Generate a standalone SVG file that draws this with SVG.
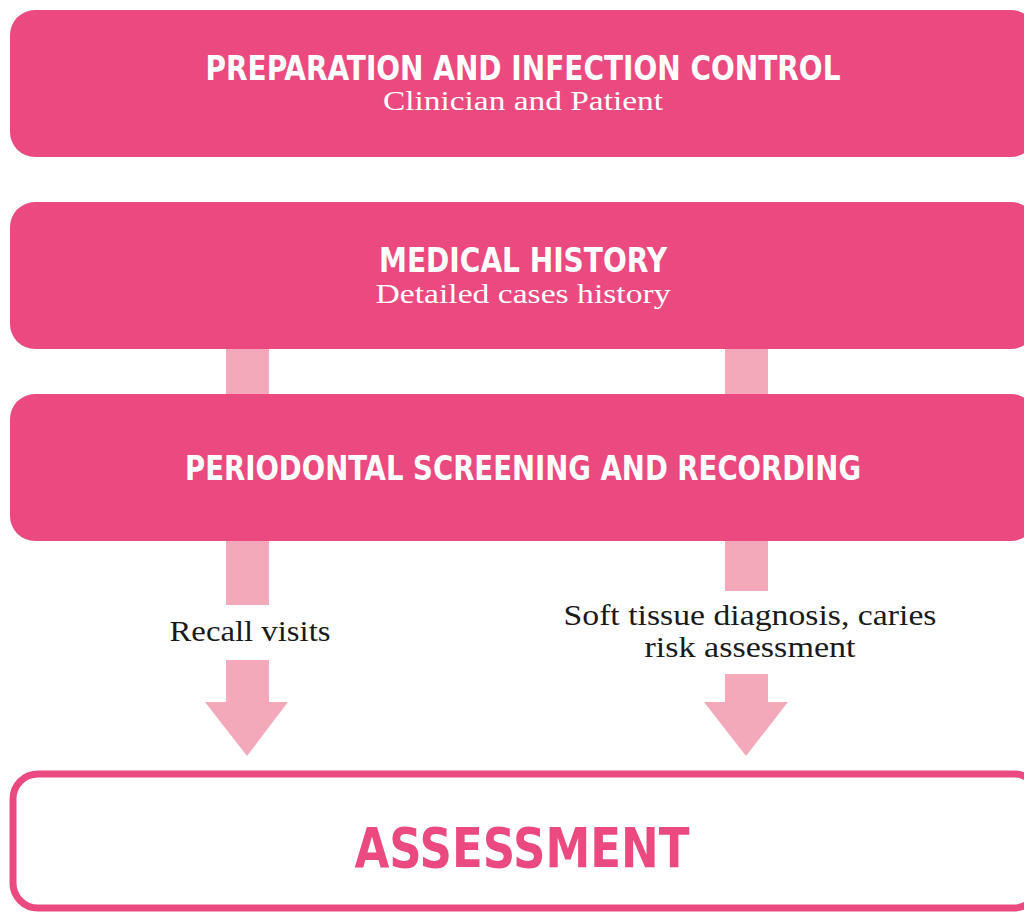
<svg xmlns="http://www.w3.org/2000/svg" width="1024" height="912" viewBox="0 0 1024 912">
<style>
.box{fill:#EB4A80}
.bar{fill:#F4A9BA}
.title{font-family:"DejaVu Sans Condensed","Roboto","Liberation Sans",sans-serif;font-weight:bold;fill:#fff;font-size:34px;text-anchor:middle}
.sub{font-family:"Liberation Serif",serif;fill:#fff;font-size:27px;text-anchor:middle}
.lbl{font-family:"Liberation Serif",serif;fill:#1a1a1a;font-size:29px;text-anchor:middle}
</style>
<rect width="1024" height="912" fill="#fff"/>
<g id="connectors">
<rect class="bar" x="226" y="340" width="43" height="60"/>
<rect class="bar" x="725" y="340" width="43" height="60"/>
<rect class="bar" x="226" y="535" width="43" height="70"/>
<polygon class="bar" points="226,660 269,660 269,702 288,702 247,756 205,702 226,702"/>
<rect class="bar" x="725" y="535" width="43" height="56"/>
<polygon class="bar" points="725,674 768,674 768,702 788,702 746,756 704,702 725,702"/>
<text class="lbl" x="250" y="641" textLength="161" lengthAdjust="spacingAndGlyphs">Recall visits</text>
<text class="lbl" x="750" y="625" textLength="373" lengthAdjust="spacingAndGlyphs">Soft tissue diagnosis, caries</text>
<text class="lbl" x="750" y="657" textLength="211" lengthAdjust="spacingAndGlyphs">risk assessment</text>
</g>
<g id="node1">
<rect class="box" x="10" y="10" width="1026" height="147" rx="25"/>
<text class="title" x="523" y="80" textLength="635" lengthAdjust="spacingAndGlyphs">PREPARATION AND INFECTION CONTROL</text>
<text class="sub" x="523" y="110" textLength="280" lengthAdjust="spacingAndGlyphs">Clinician and Patient</text>
</g>
<g id="node2">
<rect class="box" x="10" y="202" width="1026" height="147" rx="25"/>
<text class="title" x="523" y="272" textLength="288" lengthAdjust="spacingAndGlyphs">MEDICAL HISTORY</text>
<text class="sub" x="523" y="303" textLength="295" lengthAdjust="spacingAndGlyphs">Detailed cases history</text>
</g>
<g id="node3">
<rect class="box" x="10" y="394" width="1026" height="147" rx="25"/>
<text class="title" x="523" y="480" textLength="676" lengthAdjust="spacingAndGlyphs">PERIODONTAL SCREENING AND RECORDING</text>
</g>
<g id="node4">
<rect x="13" y="774" width="1026" height="134" rx="25" fill="#fff" stroke="#EB4A80" stroke-width="7"/>
<text x="522" y="867" font-family="DejaVu Sans Condensed, Roboto, Liberation Sans, sans-serif" font-weight="bold" font-size="55" fill="#EB4A80" text-anchor="middle" textLength="335" lengthAdjust="spacingAndGlyphs">ASSESSMENT</text>
</g>
</svg>
